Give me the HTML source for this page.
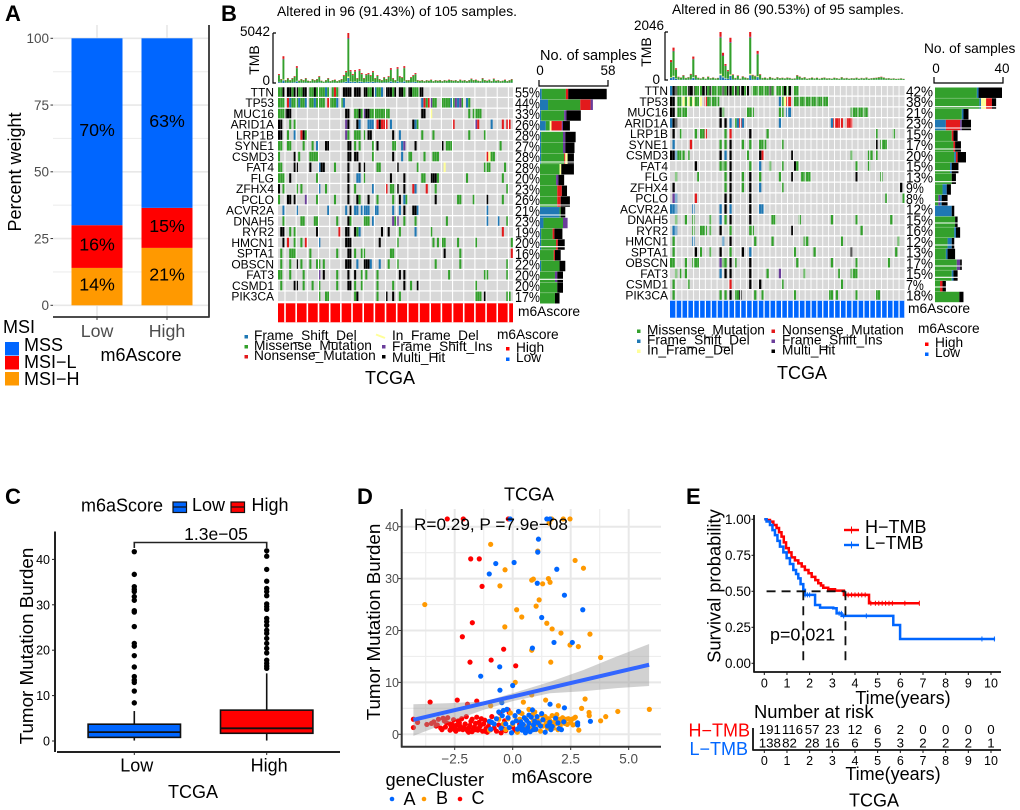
<!DOCTYPE html>
<html lang="en">
<head>
<meta charset="utf-8">
<title>Multi-panel TCGA figure</title>
<style>
html,body{margin:0;padding:0;background:#fff;width:1020px;height:810px;overflow:hidden}
svg{display:block;filter:blur(0.35px)}
text{font-family:"Liberation Sans",Arial,sans-serif;fill:#000}
.panel-letter{font-weight:bold;font-size:22px}
.t18{font-size:18px}
.t14{font-size:13.7px}
.gray{fill:#4d4d4d}
</style>
</head>
<body>
<svg id="fig" xmlns="http://www.w3.org/2000/svg" width="1020" height="810" viewBox="0 0 1020 810">
  <rect x="0" y="0" width="1020" height="810" fill="#fff"/>

  <!-- PANEL A -->
  <g id="panel-a">
    <text class="panel-letter" x="5" y="21">A</text>
    <g id="a-grid"></g>
    <g id="a-bars"></g>
    <g id="a-ticks"></g>
    <line x1="209" y1="25" x2="209" y2="317.5" stroke="#333" stroke-width="1.8"/>
    <line x1="53" y1="317" x2="209.5" y2="317" stroke="#333" stroke-width="1.8"/>
    <text class="t18" transform="translate(21,172) rotate(-90)" text-anchor="middle">Percent weight</text>
    <text class="t18" x="141" y="361" text-anchor="middle">m6Ascore</text>
    <text class="t18" x="3" y="333">MSI</text>
    <rect x="5" y="342" width="14" height="13.5" fill="#0066ff"/>
    <rect x="5" y="356" width="14" height="13.5" fill="#ff0000"/>
    <rect x="5" y="372" width="14" height="13.5" fill="#ff9900"/>
    <text class="t18" x="24" y="351">MSS</text>
    <text class="t18" x="24" y="368">MSI&#8722;L</text>
    <text class="t18" x="24" y="385">MSI&#8722;H</text>
  </g>

  <!-- PANEL B -->
  <g id="panel-b">
    <text class="panel-letter" x="221" y="21">B</text>
    <text x="277" y="16" font-size="14" textLength="240" lengthAdjust="spacingAndGlyphs">Altered in 96 (91.43%) of 105 samples.</text>
    <text x="672" y="14" font-size="14" textLength="232" lengthAdjust="spacingAndGlyphs">Altered in 86 (90.53%) of 95 samples.</text>
    <g id="onco-left"></g>
    <g id="onco-right"></g>

    <path d="M273 33 H276 M273 33 V83 H276" fill="none" stroke="#000" stroke-width="1.2"/>
    <text x="270" y="36" font-size="13.5" text-anchor="end">5042</text>
    <text x="270" y="85" font-size="13.5" text-anchor="end">0</text>
    <text transform="translate(259,60) rotate(-90)" font-size="14" text-anchor="middle">TMB</text>
    <path d="M539 80 V86 H608 V80" fill="none" stroke="#000" stroke-width="1.2"/>
    <text x="540" y="60" font-size="14.5">No. of samples</text>
    <text x="540" y="75" font-size="13.5" text-anchor="middle">0</text>
    <text x="608" y="75" font-size="13.5" text-anchor="middle">58</text>
    <text x="518" y="316" font-size="13.8">m6Ascore</text>

    <rect x="244.5" y="335" width="3.5" height="3.5" fill="#1f78b4"/>
    <rect x="244.5" y="345" width="3.5" height="3.5" fill="#33a02c"/>
    <rect x="244.5" y="355" width="3.5" height="3.5" fill="#e31a1c"/>
    <text class="t14" x="254" y="340">Frame_Shift_Del</text>
    <text class="t14" x="254" y="350">Missense_Mutation</text>
    <text class="t14" x="254" y="360">Nonsense_Mutation</text>
    <line x1="376" y1="334.5" x2="385" y2="338" stroke="#ffff99" stroke-width="2"/>
    <rect x="382" y="345" width="3.5" height="3.5" fill="#6a3d9a"/>
    <rect x="382" y="355" width="3.5" height="3.5" fill="#000"/>
    <text class="t14" x="392" y="340">In_Frame_Del</text>
    <text class="t14" x="392" y="351">Frame_Shift_Ins</text>
    <text class="t14" x="392" y="362">Multi_Hit</text>
    <text class="t14" x="497" y="339">m6Ascore</text>
    <rect x="506" y="347" width="3.5" height="3.5" fill="#ff0000"/>
    <rect x="506" y="357.5" width="3.5" height="3.5" fill="#0066ff"/>
    <text class="t14" x="516" y="352">High</text>
    <text class="t14" x="516" y="362">Low</text>
    <text class="t18" x="390" y="384" text-anchor="middle">TCGA</text>

    <path d="M665 32 H668 M665 32 V80 H668" fill="none" stroke="#000" stroke-width="1.2"/>
    <text x="664" y="30" font-size="13.5" text-anchor="end">2046</text>
    <text x="660" y="84" font-size="13.5" text-anchor="end">0</text>
    <text transform="translate(651,52) rotate(-90)" font-size="14" text-anchor="middle">TMB</text>
    <path d="M934 77 V83 H1003 V77" fill="none" stroke="#000" stroke-width="1.2"/>
    <text x="924" y="53" font-size="13.7">No. of samples</text>
    <text x="936" y="73" font-size="13.5" text-anchor="middle">0</text>
    <text x="1002" y="73" font-size="13.5" text-anchor="middle">40</text>
    <text x="908" y="313" font-size="13.8">m6Ascore</text>

    <rect x="637" y="329.5" width="3.5" height="3.5" fill="#33a02c"/>
    <rect x="637" y="339.5" width="3.5" height="3.5" fill="#1f78b4"/>
    <rect x="637" y="349.5" width="3.5" height="3.5" fill="#ffff99"/>
    <text class="t14" x="647" y="334.5">Missense_Mutation</text>
    <text class="t14" x="647" y="344.5">Frame_Shift_Del</text>
    <text class="t14" x="647" y="354.5">In_Frame_Del</text>
    <rect x="771.5" y="329.5" width="3.5" height="3.5" fill="#e31a1c"/>
    <rect x="771.5" y="339.5" width="3.5" height="3.5" fill="#6a3d9a"/>
    <rect x="771.5" y="349.5" width="3.5" height="3.5" fill="#000"/>
    <text class="t14" x="782" y="334.5">Nonsense_Mutation</text>
    <text class="t14" x="782" y="344.5">Frame_Shift_Ins</text>
    <text class="t14" x="782" y="354.5">Multi_Hit</text>
    <text class="t14" x="918" y="333">m6Ascore</text>
    <rect x="925" y="342.5" width="3.5" height="3.5" fill="#ff0000"/>
    <rect x="925" y="352.5" width="3.5" height="3.5" fill="#0066ff"/>
    <text class="t14" x="935" y="347">High</text>
    <text class="t14" x="935" y="357">Low</text>
    <text class="t18" x="802" y="379" text-anchor="middle">TCGA</text>
  </g>

  <!-- PANEL C -->
  <g id="panel-c">
    <text class="panel-letter" x="5" y="504">C</text>
    <text class="t18" x="81" y="511.5">m6aScore</text>
    <rect x="173" y="502" width="13.5" height="10.5" fill="#0066ff" stroke="#111" stroke-width="1.2"/>
    <line x1="173" y1="507" x2="186.5" y2="507" stroke="#111" stroke-width="1.2"/>
    <rect x="231" y="502" width="13.5" height="10.5" fill="#ff0000" stroke="#111" stroke-width="1.2"/>
    <line x1="231" y1="507" x2="244.5" y2="507" stroke="#111" stroke-width="1.2"/>
    <text class="t18" x="192" y="511">Low</text>
    <text class="t18" x="251.5" y="511">High</text>
    <g id="c-plot"></g>
    <line x1="55" y1="531.5" x2="55" y2="752" stroke="#222" stroke-width="2"/>
    <line x1="57" y1="752" x2="340" y2="752" stroke="#222" stroke-width="2"/>
    <text transform="translate(33,646) rotate(-90)" font-size="18.8" text-anchor="middle">Tumor Mutation Burden</text>
    <text class="t18" x="193" y="798" text-anchor="middle">TCGA</text>
    <path d="M134.3 548 V542.5 H266.7 V548" fill="none" stroke="#222" stroke-width="1.6"/>
    <text x="216" y="540" font-size="17.5" text-anchor="middle">1.3e&#8722;05</text>
  </g>

  <!-- PANEL D -->
  <g id="panel-d">
    <text class="panel-letter" x="357" y="504">D</text>
    <text class="t18" x="529" y="500.5" text-anchor="middle">TCGA</text>
    <g id="d-plot"></g>
    <line x1="401.7" y1="509" x2="401.7" y2="747.5" stroke="#333" stroke-width="2"/>
    <line x1="401" y1="746.7" x2="661" y2="746.7" stroke="#333" stroke-width="2"/>
    <text x="414" y="530" font-size="17" textLength="154" lengthAdjust="spacingAndGlyphs">R=0.29, P =7.9e&#8722;08</text>
    <text transform="translate(380,622) rotate(-90)" font-size="18.8" text-anchor="middle">Tumor Mutation Burden</text>
    <text class="t18" x="552" y="783" text-anchor="middle">m6Ascore</text>
    <text x="385.5" y="786" font-size="18.3">geneCluster</text>
    <circle cx="392" cy="799" r="2.3" fill="#0066ff"/>
    <circle cx="424" cy="799" r="2.3" fill="#ff9900"/>
    <circle cx="460" cy="799" r="2.3" fill="#ff0000"/>
    <text class="t18" x="403.5" y="805">A</text>
    <text class="t18" x="436" y="804">B</text>
    <text class="t18" x="471.5" y="804">C</text>
  </g>

  <!-- PANEL E -->
  <g id="panel-e">
    <text class="panel-letter" x="686" y="504">E</text>
    <g id="e-plot"></g>
    <line x1="754" y1="515" x2="754" y2="672.5" stroke="#111" stroke-width="1.8"/>
    <line x1="753.5" y1="672" x2="1001" y2="672" stroke="#111" stroke-width="1.8"/>
    <text transform="translate(720.5,586) rotate(-90)" font-size="18.3" text-anchor="middle">Survival probability</text>
    <text class="t18" x="903" y="704" text-anchor="middle">Time(years)</text>
    <text x="770" y="640.5" font-size="17.9">p=0.021</text>
    <line x1="844" y1="530" x2="859" y2="530" stroke="#ff0000" stroke-width="2.4"/>
    <line x1="851.5" y1="526.5" x2="851.5" y2="533.5" stroke="#ff0000" stroke-width="1"/>
    <line x1="844" y1="545" x2="859" y2="545" stroke="#0066ff" stroke-width="2.4"/>
    <line x1="851.5" y1="541.5" x2="851.5" y2="548.5" stroke="#0066ff" stroke-width="1"/>
    <text class="t18" x="865" y="533">H&#8722;TMB</text>
    <text class="t18" x="865" y="549">L&#8722;TMB</text>
    <text x="754" y="718" font-size="18.4">Number at risk</text>
    <text class="t18" x="750" y="736.5" text-anchor="end" style="fill:#ff0000">H&#8722;TMB</text>
    <text class="t18" x="748" y="755" text-anchor="end" style="fill:#0066ff">L&#8722;TMB</text>
    <g id="e-risk"></g>
    <line x1="753" y1="728" x2="753" y2="750.5" stroke="#111" stroke-width="1.8"/>
    <line x1="752.5" y1="750" x2="1001" y2="750" stroke="#111" stroke-width="1.8"/>
    <text class="t18" x="893" y="780" text-anchor="middle">Time(years)</text>
    <text class="t18" x="874" y="806.5" text-anchor="middle">TCGA</text>
  </g>
</svg>

<script>
/* ---------- Panel A data ---------- */
const aCategories = ['Low', 'High'];
const aMsiH = [14, 21.5];
const aMsiL = [16, 15];
const aMss = [70, 63.5];
const aPrinted = [['14%', '16%', '70%'], ['21%', '15%', '63%']];
const aTicks = [0, 25, 50, 75, 100];

/* ---------- Panel B data ---------- */
const genes = ['TTN','TP53','MUC16','ARID1A','LRP1B','SYNE1','CSMD3','FAT4','FLG','ZFHX4','PCLO','ACVR2A','DNAH5','RYR2','HMCN1','SPTA1','OBSCN','FAT3','CSMD1','PIK3CA'];
const leftPct = [55,44,33,26,28,27,28,28,20,23,26,21,23,19,20,16,22,20,20,17];
const rightPct = [42,38,21,23,15,17,20,15,13,9,8,12,15,16,12,13,17,15,7,18];
/* mutation runs: "from-to" sample index + type: m missense, f frameshift del, n nonsense, i frameshift ins, y in-frame del, h multi hit */
const leftRuns = [
 '0-1m 2h 4-5h 6m 7-8h 9-10m 11-12h 14-15m 16h 17-18m 19-20m 21f 22m 24m 25n 26m 29-32h 34-36h 38-39h 40-41m 42h 43f 44-45m 46f 48-50h 51m 52h 54-55h 56m 58-59h 60-62m 63-64h',
 '0-2m 4n 5f 6-8m 9f 10-11m 12f 14-15m 16f 17-18m 19-20m 22n 23m 24-25m 26f 28m 29f 64f 65n 66m 67n 68i 69-70m 73-76m 77f 78m 79i 80f 81i 82m 84f 85m',
 '0-2m 3h 4-5h 30-31h 34-35m 36h 37m 38i 39-40h 41-42m 43-44m 45m 46-48m 49m 64-65h 68y 85m 87-90m',
 '0-1h 5m 7m 30i 31h 35h 36f 40-42f 44n 45h 46-47n 48n 50f 60h 61f 62m 78n 88i 89n 95f 100n 102n 103n',
 '0-1h 4m 7f 10n 11h 12m 30i 31m 34-36m 38m 40-41h 51h 54f 64m 69m 85m 92m',
 '0-1m 4-5m 11m 15m 17f 21h 22h 31-32h 34m 36m 42m 44h 51-52m 55f 56i 61h 73h 75-77m 99m',
 '0m 7h 9m 14-17m 31h 32h 34h 35h 42m 51h 55f 58-59m 65m 69-71m 93n 94y 95-96m',
 '0-1m 7-8h 14h 18f 19-20h 25m 31h 36h 38h 44-45m 53h 62m 74y 92-94m 101m',
 '0-2m 5h 17m 31h 35f 36f 38m 50h 56h 64-65m 68-70h 71m 84m 100m',
 '0h 2m 8m 10m 18f 21m 31h 34m 42f 48n 50-51m 53h 56h 60n 61f 66n 70m 102m',
 '0m 4-5h 7h 12i 17m 25m 31h 35h 36m 40h 44m 51m 54h 56f 57m 70h 80-81m 87m 93h 100m',
 '2f 8f 22f 30f 32h 34-35f 37f 38-40f 43-44f 51f 54f 56h 60-61h 62f 93f',
 '2m 10-11m 16-17m 26m 31h 32m 38-40m 42f 51i 52m 53i 56m 61m 75m 93f 98f 102m',
 '1-2h 5m 7m 17h 27n 30-31h 34h 35m 36f 46h 49h 54m 61f 68m 100n',
 '2h 4n 7m 10m 12n 18f 30-32h 45h 53m 69m 71m 73-74m 80m 88m 104m',
 '1m 5-7m 14m 26m 31-32h 34m 37-38m 50-51m 74h 81m 104n',
 '1m 5m 8h 10m 14m 17-18m 20m 30h 31-32h 35f 38-40h 41f 45f 49m 53m 70m 81m 102m',
 '0-1m 5m 11m 18i 20h 26m 31h 34h 37m 39m 44m 54h 56h 76m 92-93m 102m',
 '1m 7-8h 11m 15m 18m 26m 31-32h 34m 37m 44m 51m 56h 59m 62h 88m',
 '18m 21-22m 34m 35h 44m 48h 51h 54m 88-90m 92h 102-103m'
];
const rightRuns = [
 '0f 1-2h 3-6m 7-9h 10-12m 13-14h 15m 16h 17m 18-19m 20m 21h 22m 23-24h 25m 26h 27m 28-29h 30m 31h 33-34m 35-37m 38-39m 40h 41m 43-44m 45m 46h 47m 48h 50-51m',
 '0-1h 3-4m 5y 6m 7y 8m 9y 10-11m 12y 14n 15-19m 44f 45m 46y 47n 48n 50-63m',
 '0-1h 3-6m 20h 21m 31-33m 44-45m 47-48f 73-79m',
 '0f 1-2h 20h 22h 24f 26m 27f 28n 29f 44f 65f 66-69n 71-73n',
 '1h 4m 10m 12-13m 14n 22m 24n 32h 39m 83m 90m',
 '1f 8n 20m 22m 24h 29m 32m 36-38m 45m 83h 85-87m',
 '0-1h 2f 3-5m 7m 20h 22f 24h 31m 36h 37n 49h 73m 80-81m 83m',
 '10h 20-22m 24h 32m 36f 40m 45m 50h 51m 75m 80m',
 '2m 11m 22m 24h 29m 32h 36m 44m 49h 53-56m 75h 85m',
 '1h 22m 24h 29m 32h 36f 45m 93h',
 '1i 2f 10n 22h 24h 32h 87m 94m',
 '0-2f 9f 20f 22h 24f 32h 36-37f',
 '2m 6m 9m 16m 20f 22m 24h 32h 41-42m 52m 65m 75m 89m',
 '1-2f 9m 12m 13-14m 16m 20h 24m 32-33m 49h 77m',
 '1m 9f 21f 24h 34m 41m 54-55m 69m 92m',
 '1m 10h 12m 16m 20h 24m 29h 32f 50m 58m 73h 91m',
 '0-1m 6m 9-10m 11m 20i 21-22m 24h 26m 32h 51m 65m 75m 88m',
 '2m 4m 6m 20f 22h 24h 32h 39m 44i 54m 68m 73-75m',
 '1m 7m 24n 32h 36h 45m 69m',
 '1m 20m 22m 24h 26-27m 28h 34m 37m 50m 64-65m 67m 75m 83m 84m'
];
/* side bars: type + sample count, stacked left to right */
const leftSide = ['f1.5 m21 n2 h33.5','f7 m28 n9 i2','f1 m20 i2 h12.5','f5 m3.5 y1.5 n9 i1 h6','f1 m19 i2 h9','f1 m19 i2 h8','f1 m20 n1 y2 h5.5','m17 y1.5 h11','m14 i2 h5','m15 n4 h4.5','m15 n3 h8','f17 m1 h4','f3 m17 i4','f1 m10 n1.5 h7','f1 m13 n1.5 h6','m12 n1 h5','f1 m16 h5','m13 i2 h5','m15 h5','m13 h4'];
const rightSide = ['m25 f1 h14','m26.5 f1 y3 n3.5 h2.5','m16 f1 h3','f6.5 n8.5 i1 h5.5','m10 n1 h2.5','m11 n1 h3.5','m11.5 f1 n1 h5','m9 f1 h4','m10 h2.5','m4.5 f2.5 h2.5','m2 i1 f1 h3.5','f10 h1.5','m12 h1.5','m11.5 f1 h2.5','m7.5 f2.5 h1.5','m6.5 f1 h4.5','m13 i2 h1','m10 f1 h2.5','m3 n1.5 h2','m14.5 h2.5'];
const leftTmb = [900,400,2700,300,500,300,500,700,1700,250,400,300,500,250,200,400,300,400,700,250,150,300,500,200,300,350,200,300,400,800,1200,5042,1300,900,1300,500,1400,1000,500,900,1000,800,1200,500,800,400,300,600,400,700,1500,500,300,1600,700,600,1700,300,300,600,800,1000,300,250,300,200,300,250,350,200,300,250,300,200,300,250,350,300,250,300,200,350,250,300,200,300,450,300,350,250,200,500,300,250,350,200,450,250,300,200,250,350,200,300,400];
const rightTmb = [850,1380,500,140,110,210,90,120,260,1000,210,100,70,130,60,150,80,110,70,90,2046,1160,680,420,1800,240,90,200,60,160,110,80,2046,220,180,1240,250,90,110,70,130,90,60,120,80,100,70,110,90,60,70,210,150,90,120,60,80,110,70,100,60,90,110,70,80,60,100,80,60,120,70,90,60,80,70,100,60,90,70,110,60,80,90,100,120,140,110,70,80,60,70,50,60,70,50];
/* share of each TMB bar per variant class */
const tmbShares = [['f', 0.1], ['y', 0.03], ['m', 0.75], ['i', 0.02], ['n', 0.1]];

/* ---------- Panel C data ---------- */
const cCategories = ['Low', 'High'];
const cQ1 = [0.8, 1.7];
const cMedian = [1.95, 2.8];
const cQ3 = [3.7, 6.8];
const cWhiskerLow = [0.1, 0.1];
const cWhiskerHigh = [6.6, 14.9];
const cOutliersLow = [41.7,36.7,34,33.4,32.9,31.8,31,28.7,28.4,25.2,21.5,20.9,18.8,16.3,14.2,13.4,12.9,11,8.4];
const cOutliersHigh = [41.9,40.7,37.8,35.2,33.6,32.9,32,30.2,29.6,29,27,26.3,25.5,24.4,23.7,22.6,21.5,20.4,19.4,17.8,17.1,16.5,16];
const cTicks = [0, 10, 20, 30, 40];

/* ---------- Panel D data ---------- */
const dPointsC = [[-2.82,41.5],[-2.13,41.5],[-0.19,41.5],[-1.81,33.8],[-1.44,33.8],[-1.32,28.5],[-1.74,21.5],[-2.17,18.8],[-0.39,16.4],[-1.84,13.9],[-0.93,14.3],[0.13,13.2],[-3.56,6.2],[-2.39,6.6],[-1.95,5.8],[-1.55,6.4],[-4.28,1.3],[-4.28,2.9],[-4.1,2.3],[-3.7,1.9],[-3.5,2.1],[-3.4,2.4],[-3.3,1.6],[-3.1,1.2],[-3.05,0.9],[-3,3.1],[-2.9,1.4],[-2.85,2.2],[-2.8,3.2],[-2.7,0.8],[-2.65,1.5],[-2.6,1.1],[-2.55,2.8],[-2.5,1.3],[-2.45,0.6],[-2.4,1.8],[-2.35,2.6],[-2.3,1],[-2.25,1.5],[-2.2,3],[-2.15,0.9],[-2.1,1.3],[-2.05,2],[-2,3.4],[-1.95,0.7],[-1.9,1.2],[-1.85,1.7],[-1.8,2.5],[-1.75,0.5],[-1.7,1],[-1.65,1.4],[-1.6,2.1],[-1.55,3.3],[-1.5,0.8],[-1.45,1.2],[-1.4,1.6],[-1.35,3],[-1.3,0.6],[-1.25,2],[-1.2,2.7],[-1.15,1.1],[-1.1,0.4],[-1.05,1.5],[-1,2.3],[-0.95,0.9],[-0.9,3.4],[-0.8,1.2],[-0.7,0.6],[-0.6,1.8],[-0.55,4.1],[-0.5,0.3],[-0.4,1],[-0.35,2.6],[-0.3,0.7],[-0.2,4.7],[-0.15,4.2],[0,1.4],[0.1,0.8],[0.3,1.9],[-2.7,2],[-2.95,2.6],[-3.25,1.8],[-2.3,2.2],[-1.9,0.4],[-1.6,0.9],[-1.2,0.6],[-2.05,1.1],[-2.5,0.9],[-1.75,2.9],[-1.45,2.3],[-2.6,1.9],[-3.2,2.9]];
const dPointsB = [[1.68,41.5],[2.18,41.5],[2.47,41.5],[1.57,40.7],[-0.95,36.6],[1.08,35.3],[2.69,33.5],[-0.33,31.7],[3.05,32],[0.82,29.7],[0.89,29.9],[-0.55,28.6],[1.29,29],[1.54,30],[1.61,29.3],[1.14,25.9],[-3.79,25],[1.01,24.7],[0.17,24],[0.39,22.6],[1.47,21.4],[-0.34,20.7],[1.7,20.3],[2.08,19.5],[3.33,19.3],[2.47,17.2],[2.83,16.9],[0.82,16.2],[3.79,14.8],[1.64,13.9],[0.11,10],[3.12,6.8],[1.42,6.6],[0.46,6.2],[1.97,5.5],[2.97,5],[5.89,4.8],[4.53,4.4],[4.01,3.4],[3.29,4.2],[3.3,3.6],[3.79,2.6],[0.82,7.6],[-0.95,5.5],[-1,0.8],[-0.6,2.9],[-0.4,2],[-0.3,0.9],[-0.2,3],[-0.1,4.1],[0,1.9],[0.1,3.5],[0.2,0.4],[0.3,2.9],[0.4,4],[0.5,1.6],[0.55,3],[0.65,0.7],[0.7,2.2],[0.8,1.2],[0.85,3.8],[0.9,2.6],[1,0.9],[1.05,3.1],[1.1,1.9],[1.15,2.4],[1.2,0.6],[1.25,3.7],[1.3,1.6],[1.35,2.8],[1.4,3.4],[1.45,2.1],[1.5,1.2],[1.55,3],[1.6,2.6],[1.65,1.9],[1.7,3.6],[1.75,1.2],[1.8,2.4],[1.85,2],[1.9,3.8],[1.95,0.9],[2,2.9],[2.05,1.7],[2.1,2.5],[2.15,3.2],[2.25,2.1],[2.3,2.9],[2.35,1.9],[2.4,3],[2.5,2.3],[2.55,2.9],[2.6,1.8],[2.65,3.1],[2.7,3.3],[2.75,2],[2.85,0.8],[0.95,4.3],[0.7,4.8],[0.3,4.2]];
const dPointsA = [[-0.11,41.5],[1.47,41.5],[1.61,41.5],[1.11,37.6],[1.08,35.1],[-0.73,32.9],[0.06,33.1],[-1.01,30.9],[1.9,31.8],[1.06,29.1],[2.23,26.8],[3.02,24],[1.25,22.5],[1.78,17.7],[2.57,17.7],[0.85,16.6],[-0.56,13],[-1.38,11.2],[0,9.4],[-0.55,8.5],[1.61,5.8],[2.23,5.1],[-0.47,6.1],[-1,2.5],[-0.95,1],[-0.9,2.3],[-0.8,2],[-0.7,3],[-0.6,4.3],[-0.5,1.2],[-0.45,3.6],[-0.4,4.6],[-0.3,2],[-0.2,3.2],[-0.15,1.3],[-0.05,0.3],[0,2.2],[0.1,3.6],[0.15,2.6],[0.2,1],[0.25,4.4],[0.3,1.5],[0.35,2.4],[0.4,0.8],[0.45,1.9],[0.5,3.2],[0.55,0.3],[0.6,2.7],[0.65,1.3],[0.7,2.1],[0.75,0.5],[0.8,3.3],[0.85,4.7],[0.9,1.8],[0.95,2.5],[1,1],[1.05,3.4],[1.1,2.2],[1.2,1.6],[1.25,4],[1.3,2.8],[1.4,0.4],[1.5,1.6],[1.6,2.3],[1.65,0.9],[1.7,1.5],[1.85,3.1],[1.95,2.2],[2,1.1],[2.1,0.9],[2.2,2.4],[2.8,2.2],[2.8,1.8],[3.35,2.5],[0.6,0.9],[0.45,1],[0.7,3.7],[-0.25,4.8],[0.9,0.9]];
const dFitX = [-4.28, 5.88];
const dFitY = [2.8, 13.4];
const dBandX = [-4.28, -2.7, -1.26, 0, 1.6, 3.05, 4.48, 5.88];
const dBandUpper = [5.8, 6, 6.3, 7.9, 10.1, 12.4, 15, 17.4];
const dBandLower = [-0.3, 2.4, 4.7, 6.4, 7.9, 8.3, 8.9, 9.3];
const dXTicks = [-2.5, 0, 2.5, 5];
const dXMinor = [-3.75, -1.25, 1.25, 3.75];
const dYTicks = [0, 10, 20, 30, 40];
const dYMinor = [5, 15, 25, 35];
const dXLabels = ['\u22122.5', '0.0', '2.5', '5.0'];

/* ---------- Panel E data ---------- */
const eTimeHigh = [0,0.1,0.25,0.4,0.54,0.65,0.76,0.86,0.96,1.08,1.2,1.35,1.5,1.65,1.79,1.95,2.09,2.25,2.38,2.5,2.6,2.82,3.12,3.51,4.62];
const eSurvHigh = [1,0.995,0.984,0.96,0.94,0.91,0.88,0.84,0.8,0.77,0.736,0.715,0.694,0.672,0.648,0.625,0.6,0.578,0.556,0.54,0.525,0.514,0.505,0.475,0.417];
const eEndHigh = 6.84;
const eTimeLow = [0,0.1,0.25,0.36,0.47,0.58,0.69,0.84,0.985,1.13,1.28,1.4,1.5,1.6,1.72,1.79,2.24,2.46,3.04,3.19,3.41,5.69,5.99];
const eSurvLow = [1,0.985,0.96,0.925,0.89,0.85,0.81,0.77,0.73,0.69,0.648,0.62,0.59,0.55,0.51,0.475,0.405,0.387,0.382,0.347,0.329,0.266,0.169];
const eEndLow = 10.18;
const eCensorHigh = [3.55,3.7,3.85,4,4.15,4.3,4.45,4.7,4.9,5.05,5.2,5.35,5.5,5.65,6.2,6.84];
const eCensorLow = [1.8,1.9,2,3.3,3.4,3.5,4.5,9.6,10.15];
const eXTicks = [0,1,2,3,4,5,6,7,8,9,10];
const eYTicks = [0, 0.25, 0.5, 0.75, 1];
const eRiskHigh = [191,116,57,23,12,6,2,0,0,0,0];
const eRiskLow = [138,82,28,16,6,5,3,2,2,2,1];
const eMedianHigh = 3.58;
const eMedianLow = 1.72;

/* ---------- helpers ---------- */
const NS = 'http://www.w3.org/2000/svg';
const TYPE_COLOR = { m:'#33a02c', f:'#1f78b4', n:'#e31a1c', i:'#6a3d9a', y:'#ffff99', h:'#000000' };
function add(parent, tag, attrs, txt) {
  const el = document.createElementNS(NS, tag);
  for (const k in attrs) el.setAttribute(k, attrs[k]);
  if (txt !== undefined) el.textContent = txt;
  parent.appendChild(el);
  return el;
}
const byId = id => document.getElementById(id);

/* ---------- Panel A ---------- */
(function () {
  const y = v => 305.3 - v * 2.67;
  const xc = i => 97 + i * 70;
  const grid = byId('a-grid'), bars = byId('a-bars'), ticks = byId('a-ticks');
  aTicks.forEach((t, idx) => {
    const gl = add(grid, 'line', { x1: 53, x2: 209, y1: y(t), y2: y(t), stroke: '#e8e8e8', 'stroke-width': 1.6 });
    
    
    if (idx < aTicks.length - 1) {
      const ml = add(grid, 'line', { x1: 53, x2: 209, y1: y(t + 12.5), y2: y(t + 12.5), stroke: '#eeeeee', 'stroke-width': 1.1 });
      
      
    }
    const tk = add(ticks, 'line', { x1: 50.5, x2: 53, y1: y(t), y2: y(t), stroke: '#333', 'stroke-width': 1 });
    
    
    const lb = add(ticks, 'text', { x: 49, y: y(t) + 4.7, 'text-anchor': 'end', 'font-size': 13.5, class: 'gray' }, String(t));
    
    
  });
  aCategories.forEach((c, i) => {
    const vg = add(grid, 'line', { x1: xc(i), x2: xc(i), y1: 25, y2: 317, stroke: '#e8e8e8', 'stroke-width': 1.6 });
    
    
    const segs = [[aMsiH[i], '#ff9900'], [aMsiL[i], '#ff0000'], [aMss[i], '#0066ff']];
    let base = 0;
    segs.forEach((s, j) => {
      const r = add(bars, 'rect', { x: xc(i) - 25.5, width: 51, y: y(base + s[0]), height: y(base) - y(base + s[0]) , fill: s[1] });
      
      
      const tx = add(bars, 'text', { x: xc(i), y: y(base + s[0] / 2) + 4, 'text-anchor': 'middle', 'font-size': 17.8 }, aPrinted[i][j]);
      
      
      base += s[0];
    });
    const tl = add(ticks, 'line', { x1: xc(i), x2: xc(i), y1: 317, y2: 320, stroke: '#333', 'stroke-width': 1 });
    
    
    const xl = add(ticks, 'text', { x: xc(i), y: 337, 'text-anchor': 'middle', 'font-size': 17.8, class: 'gray' }, c);
    
    
  });
})();

/* ---------- Panel B ---------- */
function parseRuns(s) {
  return s.split(' ').map(tok => {
    const m = tok.match(/^(\d+)(?:-(\d+))?([a-z])$/);
    return { from: +m[1], to: +(m[2] || m[1]), type: m[3] };
  });
}
function parseSide(s) {
  return s.split(' ').map(tok => ({ type: tok[0], n: parseFloat(tok.slice(1)) }));
}
function drawOnco(root, o, runs, pct, side, tmb) {
  const colX = c => o.x0 + c * o.cw;
  const rowY = r => o.y0 + r * o.pitch;
  const tmbY = v => o.tmbBase - v * o.tmbScale;
  const sideX = n => o.sideX + n * o.sideScale;

  tmb.forEach((v, c) => {
    let acc = 0;
    tmbShares.forEach(sh => {
      const seg = v * sh[1];
      const b = add(root, 'rect', { x: colX(c), width: o.cw * 0.85, y: tmbY(acc + seg), height: tmbY(acc) - tmbY(acc + seg), fill: TYPE_COLOR[sh[0]] });
      
      
      acc += seg;
    });
  });

  genes.forEach((g, r) => {
    const bg = add(root, 'rect', { x: o.x0, y: rowY(r), width: o.width, height: o.cellH, fill: '#d8d8d8' });
    
    
    parseRuns(runs[r]).forEach(run => {
      for (let c = run.from; c <= run.to; c++) {
        const cell = add(root, 'rect', { x: colX(c), y: rowY(r), width: o.cw * 0.92, height: o.cellH, fill: TYPE_COLOR[run.type] });
        
        
      }
    });
    const lb = add(root, 'text', { x: o.labelX, y: rowY(r) + o.cellH - 0.4, 'text-anchor': 'end', 'font-size': 12 }, g);
    
    
    const label = pct[r] + '%';
    const pc = add(root, 'text', { x: o.pctX, y: rowY(r) + o.cellH + 0.8, 'font-size': 14.8, textLength: label.length === 3 ? o.pctW : o.pctW * 0.66, lengthAdjust: 'spacingAndGlyphs' }, label);
    
    
    let acc = 0;
    parseSide(side[r]).forEach(seg => {
      const sb = add(root, 'rect', { x: sideX(acc), y: rowY(r) + o.sideOff, width: sideX(seg.n) - sideX(0), height: o.pitch - 0.3, fill: TYPE_COLOR[seg.type] });
      
      
      acc += seg.n;
    });
  });
  o.sideGaps.forEach(gy => {
    const sg = add(root, 'line', { x1: o.sideX - 1, x2: o.sideX + 72, y1: gy, y2: gy, stroke: '#fff', 'stroke-width': 1.1 });
    
    
  });

  for (let gx = o.gap0; gx < o.x0 + o.width; gx += o.gapStep) {
    const gp = add(root, 'line', { x1: gx, x2: gx, y1: o.y0 - 1, y2: rowY(genes.length), stroke: '#fff', 'stroke-width': o.gapW });
    
    
  }
  const ann = add(root, 'rect', { x: o.x0, y: o.annY, width: o.width, height: o.annH, fill: o.annFill });
  
  
  for (let gx = o.gap0; gx < o.x0 + o.width; gx += o.gapStep) {
    const ag = add(root, 'line', { x1: gx, x2: gx, y1: o.annY, y2: o.annY + o.annH, stroke: '#fff', 'stroke-width': o.annGapW });
    
    
  }
}
drawOnco(byId('onco-left'), {
  x0: 278, cw: 235 / 105, width: 235, y0: 87.3, pitch: 10.75, cellH: 9.5,
  tmbBase: 83, tmbScale: 50 / 5042, labelX: 274, pctX: 515, pctW: 25, sideX: 540, sideScale: 66.7 / 58, sideOff: 1.5,
  sideGaps: [131, 162, 205, 215, 246.7, 279.3],
  gap0: 285, gapStep: 11.17, gapW: 1.1, annY: 303.3, annH: 19, annFill: '#ff0000', annGapW: 1.6
}, leftRuns, leftPct, leftSide, leftTmb);
drawOnco(byId('onco-right'), {
  x0: 670, cw: 235 / 95, width: 235, y0: 86, pitch: 10.75, cellH: 9.5,
  tmbBase: 80, tmbScale: 48 / 2046, labelX: 668, pctX: 906, pctW: 27, sideX: 935, sideScale: 67 / 40, sideOff: 1.5,
  sideGaps: [106.7, 128, 149, 170.7, 181.7, 201.7, 223, 245, 266, 277.3, 287],
  gap0: 676, gapStep: 5.87, gapW: 0.9, annY: 300.7, annH: 17, annFill: '#0066ff', annGapW: 1.3
}, rightRuns, rightPct, rightSide, rightTmb);

/* ---------- Panel C ---------- */
(function () {
  const root = byId('c-plot');
  const y = v => 741 - v * 4.54;
  const xc = i => 134.3 + i * 132.4;
  const halfW = 46.2;
  cTicks.forEach(t => {
    const tk = add(root, 'line', { x1: 52, x2: 55, y1: y(t), y2: y(t), stroke: '#222', 'stroke-width': 1 });
    
    
    const lb = add(root, 'text', { x: 50, y: y(t) + 4.5, 'text-anchor': 'end', 'font-size': 12.5 }, String(t));
    
    
  });
  cCategories.forEach((c, i) => {
    const wh = add(root, 'line', { x1: xc(i), x2: xc(i), y1: y(cWhiskerHigh[i]), y2: y(cWhiskerLow[i]), stroke: '#111', 'stroke-width': 1.6 });
    
    
    const box = add(root, 'rect', { x: xc(i) - halfW, width: halfW * 2, y: y(cQ3[i]), height: y(cQ1[i]) - y(cQ3[i]), fill: i ? '#ff0000' : '#0066ff', stroke: '#111', 'stroke-width': 1.6 });
    
    
    const md = add(root, 'line', { x1: xc(i) - halfW, x2: xc(i) + halfW, y1: y(cMedian[i]), y2: y(cMedian[i]), stroke: '#111', 'stroke-width': 1.8 });
    
    
    (i ? cOutliersHigh : cOutliersLow).forEach(v => {
      const pt = add(root, 'circle', { cx: xc(i), cy: y(v), r: 2.7, fill: '#000' });
      
      
    });
    const tk = add(root, 'line', { x1: xc(i), x2: xc(i), y1: 752, y2: 755, stroke: '#222', 'stroke-width': 1 });
    
    
    const lb = add(root, 'text', { x: xc(i) + 2.5, y: 771.5, 'text-anchor': 'middle', 'font-size': 18 }, c);
    
    
  });
})();

/* ---------- Panel D ---------- */
(function () {
  const root = byId('d-plot');
  const x = v => 512.7 + v * 23.2;
  const y = v => 734.3 - v * 5.19;
  dXMinor.forEach(t => {
    const l = add(root, 'line', { x1: x(t), x2: x(t), y1: 509, y2: 746, stroke: '#eeeeee', 'stroke-width': 1.2 });
    
    
  });
  dYMinor.forEach(t => {
    const l = add(root, 'line', { x1: 402, x2: 661, y1: y(t), y2: y(t), stroke: '#eeeeee', 'stroke-width': 1.2 });
    
    
  });
  dXTicks.forEach((t, i) => {
    const l = add(root, 'line', { x1: x(t), x2: x(t), y1: 509, y2: 746, stroke: '#e8e8e8', 'stroke-width': 2 });
    
    
    const tk = add(root, 'line', { x1: x(t), x2: x(t), y1: 747, y2: 750, stroke: '#333', 'stroke-width': 1 });
    
    
    const lb = add(root, 'text', { x: x(t), y: 763.5, 'text-anchor': 'middle', 'font-size': 13.5, class: 'gray' }, dXLabels[i]);
    
    
  });
  dYTicks.forEach(t => {
    const l = add(root, 'line', { x1: 402, x2: 661, y1: y(t), y2: y(t), stroke: '#e8e8e8', 'stroke-width': 2 });
    
    
    const tk = add(root, 'line', { x1: 398.5, x2: 401, y1: y(t), y2: y(t), stroke: '#333', 'stroke-width': 1 });
    
    
    const lb = add(root, 'text', { x: 399, y: y(t) + 4.5, 'text-anchor': 'end', 'font-size': 12.5, class: 'gray' }, String(t));
    
    
  });
  dPointsC.forEach(p => {
    const c = add(root, 'circle', { cx: x(p[0]), cy: y(p[1]), r: 2.6, fill: '#ff0000' });
    
    
  });
  dPointsB.forEach(p => {
    const c = add(root, 'circle', { cx: x(p[0]), cy: y(p[1]), r: 2.6, fill: '#ff9900' });
    
    
  });
  dPointsA.forEach(p => {
    const c = add(root, 'circle', { cx: x(p[0]), cy: y(p[1]), r: 2.6, fill: '#0066ff' });
    
    
  });
  const upper = dBandX.map((v, i) => x(v) + ',' + y(dBandUpper[i]));
  const lower = dBandX.map((v, i) => x(v) + ',' + y(dBandLower[i])).reverse();
  const band = add(root, 'polygon', { points: upper.concat(lower).join(' '), fill: '#999', 'fill-opacity': 0.45 });
  
  
  const fit = add(root, 'line', { x1: x(dFitX[0]), y1: y(dFitY[0]), x2: x(dFitX[1]), y2: y(dFitY[1]), stroke: '#3366ff', 'stroke-width': 4 });
  
  
})();

/* ---------- Panel E ---------- */
(function () {
  const root = byId('e-plot'), risk = byId('e-risk');
  const x = v => 764.3 + v * 22.67;
  const y = v => 663.3 - v * 144;
  const stepPath = (t, s, end) => {
    let d = 'M' + x(t[0]) + ' ' + y(s[0]);
    for (let i = 1; i < t.length; i++) d += ' H' + x(t[i]) + ' V' + y(s[i]);
    return d + ' H' + x(end);
  };
  const survAt = (t, s, when) => {
    let v = s[0];
    t.forEach((tt, i) => { if (tt <= when) v = s[i]; });
    return v;
  };
  eYTicks.forEach(t => {
    const tk = add(root, 'line', { x1: 751.5, x2: 754, y1: y(t), y2: y(t), stroke: '#111', 'stroke-width': 1 });
    
    
    const lb = add(root, 'text', { x: 751, y: y(t) + 4.5, 'text-anchor': 'end', 'font-size': 13.4 }, t.toFixed(2));
    
    
  });
  eXTicks.forEach((t, i) => {
    const tk = add(root, 'line', { x1: x(t), x2: x(t), y1: 672, y2: 675, stroke: '#111', 'stroke-width': 1 });
    
    
    const lb = add(root, 'text', { x: x(t), y: 687.5, 'text-anchor': 'middle', 'font-size': 12.5 }, String(t));
    
    
    const rt = add(risk, 'line', { x1: x(t), x2: x(t), y1: 750, y2: 753, stroke: '#111', 'stroke-width': 1 });
    
    
    const rl = add(risk, 'text', { x: x(t), y: 765, 'text-anchor': 'middle', 'font-size': 12.5 }, String(t));
    
    
    const shift = n => (n >= 100 ? 5.5 : (i > 0 && i < 3 ? 2.5 : 0));
    const r1 = add(risk, 'text', { x: x(t) + shift(eRiskHigh[i]), y: 734, 'text-anchor': 'middle', 'font-size': 13.3 }, String(eRiskHigh[i]));
    
    
    const r2 = add(risk, 'text', { x: x(t) + shift(eRiskLow[i]), y: 747.5, 'text-anchor': 'middle', 'font-size': 13.3 }, String(eRiskLow[i]));
    
    
  });
  const hi = add(root, 'path', { d: stepPath(eTimeHigh, eSurvHigh, eEndHigh), fill: 'none', stroke: '#ff0000', 'stroke-width': 2.5 });
  
  
  const lo = add(root, 'path', { d: stepPath(eTimeLow, eSurvLow, eEndLow), fill: 'none', stroke: '#0066ff', 'stroke-width': 2.5 });
  
  
  eCensorHigh.forEach(t => {
    const s = survAt(eTimeHigh, eSurvHigh, t);
    const c = add(root, 'line', { x1: x(t), x2: x(t), y1: y(s) - 2.5, y2: y(s) + 2.5, stroke: '#ff0000', 'stroke-width': 1 });
    
    
  });
  eCensorLow.forEach(t => {
    const s = survAt(eTimeLow, eSurvLow, t);
    const c = add(root, 'line', { x1: x(t), x2: x(t), y1: y(s) - 2.5, y2: y(s) + 2.5, stroke: '#0066ff', 'stroke-width': 1 });
    
    
  });
  const dash = add(root, 'line', { x1: x(0.1), x2: x(eMedianHigh), y1: y(0.5), y2: y(0.5), stroke: '#111', 'stroke-width': 1.8, 'stroke-dasharray': '9 6' });
  
  
  const d1 = add(root, 'line', { x1: x(eMedianLow), x2: x(eMedianLow), y1: y(0.5), y2: y(0), stroke: '#111', 'stroke-width': 1.8, 'stroke-dasharray': '9 6' });
  
  
  const d2 = add(root, 'line', { x1: x(eMedianHigh), x2: x(eMedianHigh), y1: y(0.5), y2: y(0), stroke: '#111', 'stroke-width': 1.8, 'stroke-dasharray': '9 6' });
  
  
})();
</script>
</body>
</html>
